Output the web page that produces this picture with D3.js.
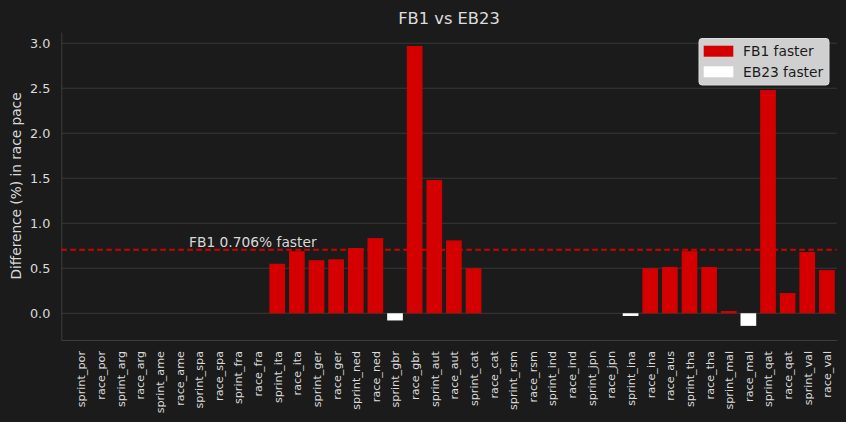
<!DOCTYPE html>
<html><head><meta charset="utf-8">
<script src="https://cdn.jsdelivr.net/npm/d3@7"></script>
<style>
html,body{margin:0;padding:0;background:#1b1b1b;}
svg{display:block;font-family:"DejaVu Sans",sans-serif;}
</style></head>
<body><svg id="c" width="846" height="422"></svg>
<script>
const categories = ["sprint_por","race_por","sprint_arg","race_arg","sprint_ame","race_ame","sprint_spa","race_spa","sprint_fra","race_fra","sprint_ita","race_ita","sprint_ger","race_ger","sprint_ned","race_ned","sprint_gbr","race_gbr","sprint_aut","race_aut","sprint_cat","race_cat","sprint_rsm","race_rsm","sprint_ind","race_ind","sprint_jpn","race_jpn","sprint_ina","race_ina","race_aus","sprint_tha","race_tha","sprint_mal","race_mal","sprint_qat","race_qat","sprint_val","race_val"];
const values = [null,null,null,null,null,null,null,null,null,null,0.55,0.69,0.59,0.60,0.725,0.835,-0.08,2.97,1.48,0.81,0.50,null,null,null,null,null,null,null,-0.03,0.50,0.515,0.69,0.515,0.025,-0.14,2.48,0.225,0.68,0.48];
const meanValue = 0.706;
const yTicks = [0.0,0.5,1.0,1.5,2.0,2.5,3.0];
const legendLabels = ["FB1 faster","EB23 faster"];
const title = "FB1 vs EB23";
const yLabel = "Difference (%) in race pace";

const RED = "#d40000", WHITE = "#ffffff";
const svg = d3.select("#c");
const L = 61.3, R = 836.7, T = 32, B = 340;
const x = d3.scaleLinear().domain([-1, categories.length - 0.5]).range([L, R]);
const y = d3.scaleLinear().domain([-0.297, 3.125]).range([B, T]);
const bw = (x(1) - x(0)) * 0.8;

// grid
svg.append("g").selectAll("line").data(yTicks).join("line")
  .attr("x1", L).attr("x2", R).attr("y1", d => y(d)).attr("y2", d => y(d))
  .attr("stroke", "#383838").attr("stroke-width", 1);

// axes
const yAxis = d3.axisLeft(y).tickValues(yTicks).tickFormat(d3.format(".1f")).tickSize(0).tickPadding(11);
const gy = svg.append("g").attr("transform", `translate(${L},0)`).call(yAxis);
gy.select(".domain").attr("stroke", "#3c3c3c");
gy.selectAll("text").attr("fill", "#dadada").style("font-size", "12.8px").style("font-family", "DejaVu Sans");

const xAxis = d3.axisBottom(x).tickValues(d3.range(categories.length)).tickFormat(i => categories[i]).tickSize(0);
const gx = svg.append("g").attr("transform", `translate(0,${B})`).call(xAxis);
gx.select(".domain").attr("stroke", "#3c3c3c");
gx.selectAll("text").attr("fill", "#dadada").style("font-size", "11.2px").style("font-family", "DejaVu Sans")
  .attr("text-anchor", "end").attr("transform", "rotate(-90)")
  .attr("x", -11).attr("y", 0).attr("dy", "0.35em");

// bars
const data = values.map((v, i) => ({i, v})).filter(d => d.v !== null);
svg.append("g").selectAll("rect").data(data).join("rect")
  .attr("x", d => x(d.i) - bw / 2).attr("width", bw)
  .attr("y", d => y(Math.max(0, d.v)))
  .attr("height", d => Math.abs(y(d.v) - y(0)))
  .attr("fill", d => d.v >= 0 ? RED : WHITE);

// mean line
svg.append("line").attr("x1", L).attr("x2", R).attr("y1", y(meanValue)).attr("y2", y(meanValue))
  .attr("stroke", RED).attr("stroke-width", 2).attr("stroke-dasharray", "5.6,3.4");
svg.append("text").attr("x", 189).attr("y", 246.5).attr("fill", "#d8d8d8")
  .style("font-size", "13.8px").text(`FB1 ${meanValue}% faster`);

// title
svg.append("text").attr("x", 449).attr("y", 24).attr("text-anchor", "middle")
  .attr("fill", "#dddddd").style("font-size", "16.3px").text(title);

// y label
svg.append("text").attr("transform", `translate(21,${(T + B) / 2}) rotate(-90)`)
  .attr("text-anchor", "middle").attr("fill", "#d8d8d8").style("font-size", "13.7px").text(yLabel);

// legend
const lg = svg.append("g");
lg.append("rect").attr("x", 699).attr("y", 38.5).attr("width", 130).attr("height", 46.5)
  .attr("rx", 3).attr("fill", "#d0d0d0").attr("stroke", "#dcdcdc").attr("stroke-width", 1);
const colors = [RED, WHITE];
legendLabels.forEach((lab, k) => {
  const yy = 45.7 + k * 20.6;
  lg.append("rect").attr("x", 703.7).attr("y", yy).attr("width", 29.6).attr("height", 11).attr("fill", colors[k]);
  lg.append("text").attr("x", 743).attr("y", yy + 10.5).attr("fill", "#1b1b1b").style("font-size", "13.8px").text(lab);
});
</script></body></html>
